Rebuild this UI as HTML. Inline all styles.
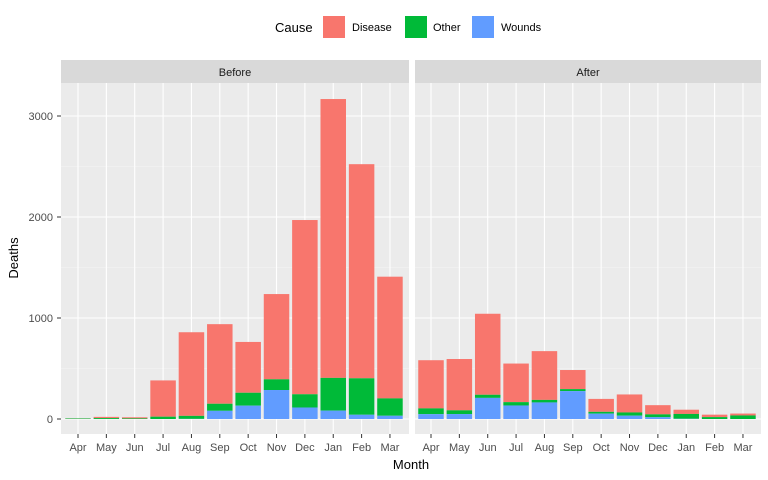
<!DOCTYPE html>
<html><head><meta charset="utf-8"><style>
body{margin:0;background:#fff;}
svg{display:block;font-family:"Liberation Sans",sans-serif;}
</style></head><body>
<svg id="s" width="768" height="480" xmlns="http://www.w3.org/2000/svg"></svg>
<script>
var s=document.getElementById('s');var h='';
function r(x,y,w,hh,c){h+='<rect x="'+x+'" y="'+y+'" width="'+w+'" height="'+hh+'" fill="'+c+'"/>';}
function l(x1,y1,x2,y2,c,w){h+='<line x1="'+x1+'" y1="'+y1+'" x2="'+x2+'" y2="'+y2+'" stroke="'+c+'" stroke-width="'+w+'"/>';}
function t(x,y,str,sz,c,anc,extra){h+='<text x="'+x+'" y="'+y+'" font-size="'+sz+'" fill="'+c+'" text-anchor="'+(anc||'start')+'" '+(extra||'')+'>'+str+'</text>';}
var months=['Apr','May','Jun','Jul','Aug','Sep','Oct','Nov','Dec','Jan','Feb','Mar'];
// [disease,wounds,other]
var before=[[1,0,5],[12,0,9],[11,0,6],[359,0,23],[828,1,30],[788,81,70],[503,132,128],[844,287,106],[1725,114,131],[2761,83,324],[2120,42,361],[1205,32,172]];
var after=[[477,48,57],[508,49,37],[802,209,31],[382,134,33],[483,164,25],[189,276,20],[128,53,18],[178,33,32],[91,18,28],[42,2,48],[24,0,19],[19,0,35]];
var y0=419,k=0.101;
function Y(v){return y0-v*k;}
var panels=[{x0:61,x1:409,first:78,step:28.36,d:before,lab:'Before'},{x0:415,x1:761,first:431,step:28.36,d:after,lab:'After'}];
panels.forEach(function(p){
 r(p.x0,83,p.x1-p.x0,351,'#EBEBEB');
 r(p.x0,60,p.x1-p.x0,23,'#D9D9D9');
 t((p.x0+p.x1)/2,76,p.lab,11,'#1A1A1A','middle');
 [500,1500,2500].forEach(function(v){l(p.x0,Y(v),p.x1,Y(v),'#F5F5F5',0.6);});
 [0,1000,2000,3000].forEach(function(v){l(p.x0,Y(v),p.x1,Y(v),'#fff',1.1);});
 for(var i=0;i<12;i++){var cx=p.first+i*p.step;l(cx,83,cx,434,'#fff',1.1);
  var d=p.d[i],w=25.5,x=cx-w/2;
  var a=d[1],b=d[1]+d[2],c=b+d[0];
  r(x,Y(c),w,Y(b)-Y(c),'#F8766D');
  r(x,Y(b),w,Y(a)-Y(b),'#00BA38');
  r(x,Y(a),w,y0-Y(a),'#619CFF');
  l(cx,434,cx,438,'#333',1);
  t(cx,451,months[i],11,'#4D4D4D','middle');
 }
});
[0,1000,2000,3000].forEach(function(v){l(57,Y(v),61,Y(v),'#333',1);t(53,Y(v)+4,v,11,'#4D4D4D','end');});
t(14,258,'Deaths',13,'#000','middle','transform="rotate(-90 14 258)" dy="4"');
t(411,469,'Month',13,'#000','middle');
t(275,32,'Cause',13,'#000','start');
r(323,16,22,22,'#F8766D');t(352,31,'Disease',11,'#000');
r(405,16,22,22,'#00BA38');t(433,31,'Other',11,'#000');
r(472,16,22,22,'#619CFF');t(501,31,'Wounds',11,'#000');
s.innerHTML=h;
</script>
</body></html>
